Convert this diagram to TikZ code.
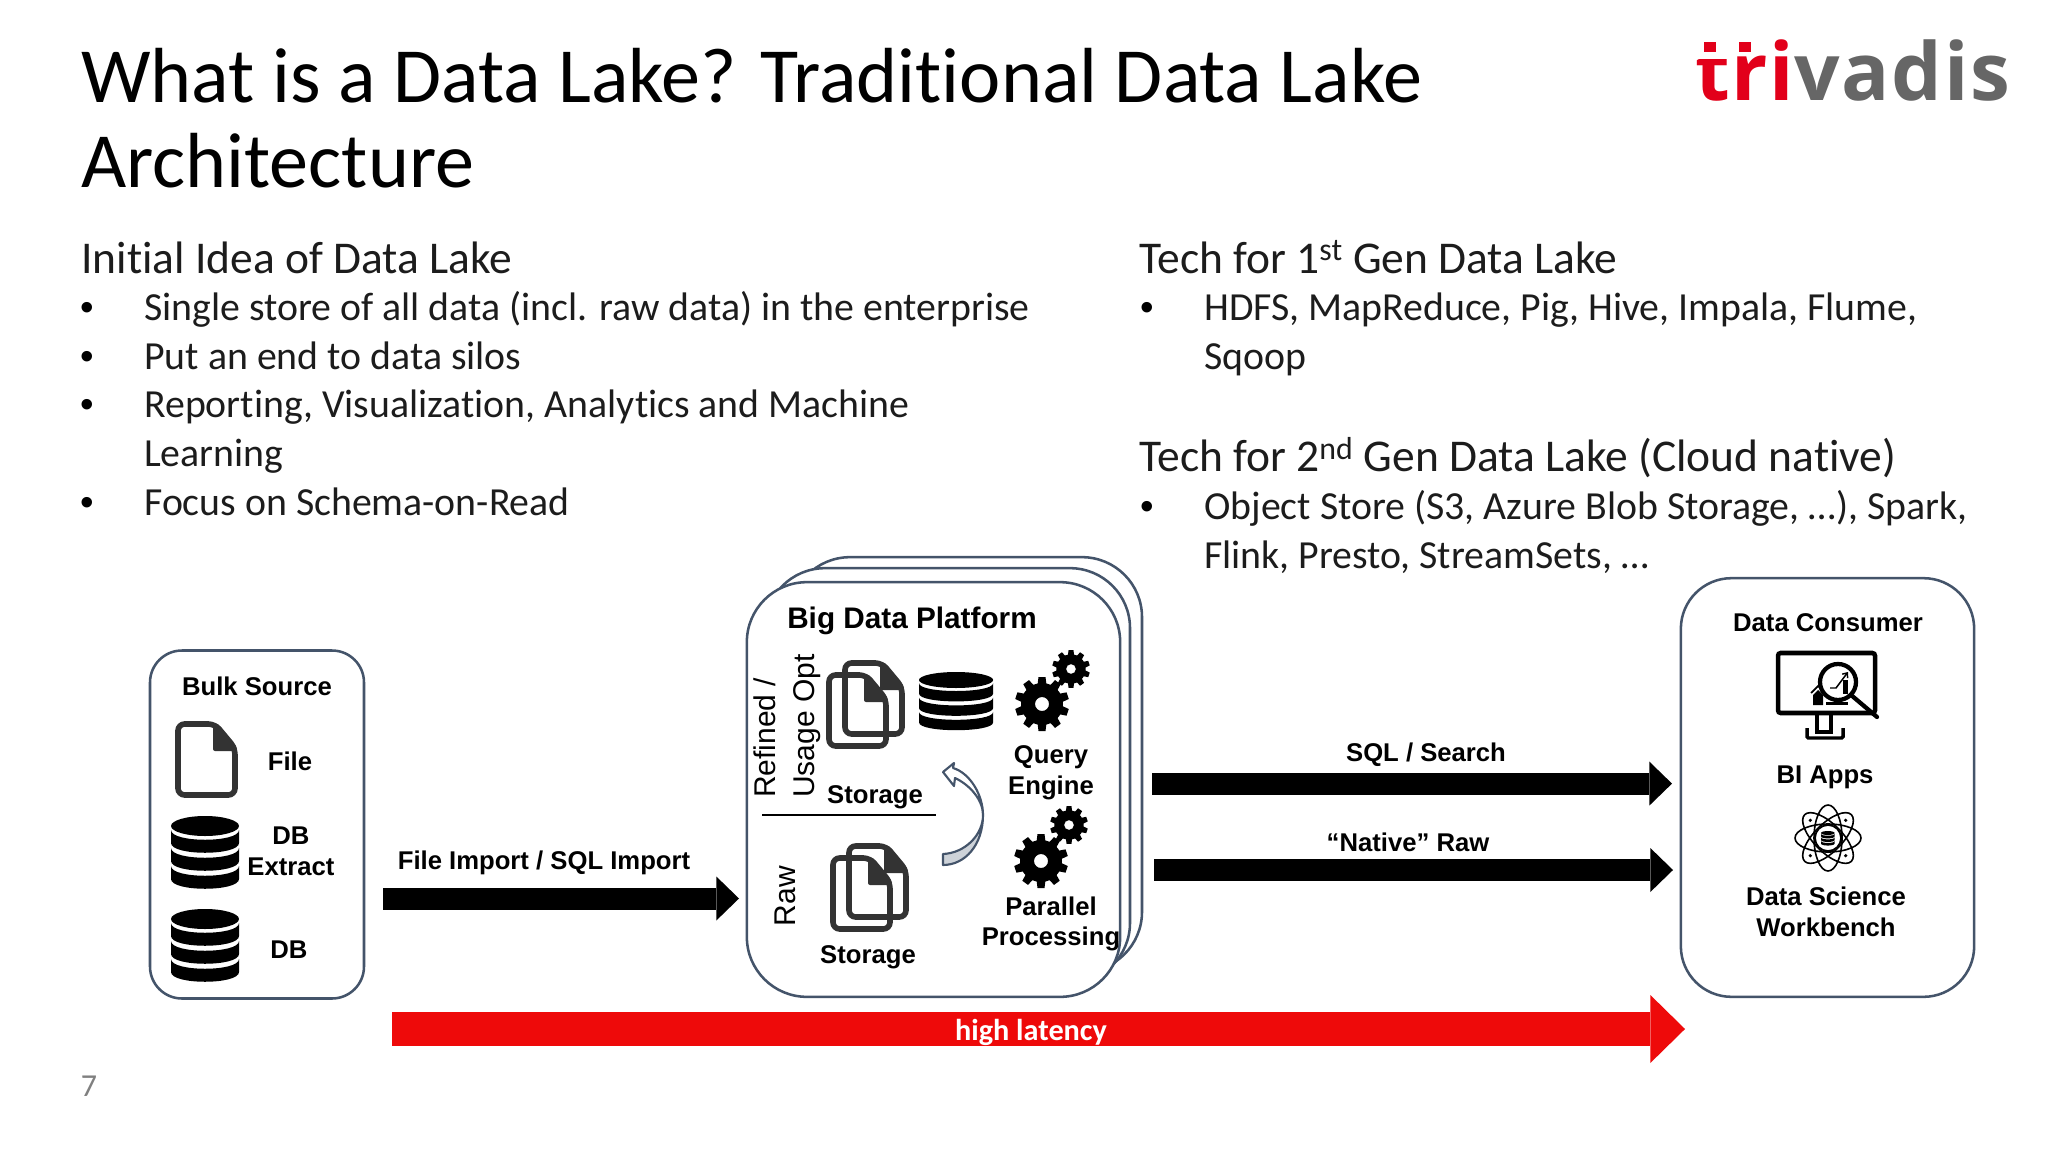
\documentclass[tikz,border=0pt]{standalone}
\usepackage{fontspec}
\setmainfont[Ligatures=NoCommon]{Carlito}
\newfontfamily\arialf{Liberation Sans}
\newfontfamily\logof[LetterSpace=2.2]{Open Sans}
\usetikzlibrary{arrows.meta,calc}
\definecolor{boxline}{HTML}{44546A}
\definecolor{iconline}{HTML}{333333}
\definecolor{bodytxt}{HTML}{1C1C1C}
\definecolor{redarrow}{HTML}{EE0A0A}
\definecolor{logored}{HTML}{E2001A}
\definecolor{logogray}{HTML}{666666}
\definecolor{foldgray}{HTML}{CDD2D8}
\tikzset{
  x=0.75pt,y=-0.75pt,
  titletxt/.style={anchor=base west,inner sep=0,text=black,font=\fontsize{58.6}{64}\selectfont},
  headtxt/.style={anchor=base west,inner sep=0,text=bodytxt,font=\fontsize{34.1}{38}\selectfont},
  bodyline/.style={anchor=base west,inner sep=0,text=bodytxt,font=\fontsize{29.85}{34}\selectfont},
  bulletmark/.style={anchor=base,inner sep=0,text=black,font=\arialf\fontsize{29}{32}\selectfont},
  dglabel/.style={inner sep=0,text=black,font=\arialf\bfseries\fontsize{19.25}{23}\selectfont,align=center},
  rotlabel/.style={inner sep=0,text=black,rotate=90,font=\arialf\fontsize{22.5}{29}\selectfont,align=left},
  panel/.style={draw=boxline,fill=white,line width=1.9pt,inner sep=0,outer sep=0},
  blockarrow/.style={draw=black,line width=16.5pt,-{Triangle[length=17pt,width=33pt,line width=0pt]},shorten >=0pt},
  pics/docicon/.style={code={
    \draw[iconline,line width=4.2pt,rounded corners=5pt,line join=round] (3,3) -- (40,3) -- (60,27) -- (60,74) -- (3,74) -- cycle;
    \fill[iconline,rounded corners=1.5pt] (38,2) -- (42,2) -- (62,26) -- (62,30) -- (38,30) -- cycle;
  }},
  pics/dbicon/.style={code={
    \fill[black] (34,10) ellipse [x radius=34,y radius=10];
    \foreach \yy in {14,32,50}{
      \fill[black] (0,\yy) .. controls (0,\yy+13) and (68,\yy+13) .. (68,\yy) -- (68,\yy+13)
        .. controls (68,\yy+26) and (0,\yy+26) .. (0,\yy+13) -- cycle;
    }
  }},
  pics/gearicon/.style={code={
    \fill[black,even odd rule] (0,0) circle [radius=21] (0,0) circle [radius=7];
    \foreach \a in {0,36,...,324}{
      \fill[black,rotate=\a] (-4.5,-19) -- (-3.5,-27) -- (3.5,-27) -- (4.5,-19) -- cycle;
    }
  }},
}
\begin{document}
\begin{tikzpicture}
\useasboundingbox[fill=white] (0,0) rectangle (2048,1152);

% Title
\node[titletxt] (t1) at (81,103) {What is a Data Lake? Traditional Data Lake};
\node[titletxt] (t2) at (81,188) {Architecture};

% Logo
\node[inner sep=0,anchor=base west,font=\logof\bfseries\fontsize{60}{64}\selectfont] (logo) at (1695,101) {\textcolor{logored}{tri}\textcolor{logogray}{vadis}};
\fill[white] (1695,30) rectangle (1732,59);
\fill[logored] (1704,42) rectangle (1716,52);
\fill[logored] (1739,42) rectangle (1751,52);

% Left column
\node[headtxt] (h1) at (81,273) {Initial Idea of Data Lake};
\node[bulletmark] (b1) at (87.5,320) {•};
\node[bodyline] (l1) at (144,320) {Single store of all data (incl. raw data) in the enterprise};
\node[bulletmark] (b2) at (87.5,369) {•};
\node[bodyline] (l2) at (144,369) {Put an end to data silos};
\node[bulletmark] (b3) at (87.5,417.5) {•};
\node[bodyline] (l3) at (144,417.5) {Reporting, Visualization, Analytics and Machine};
\node[bodyline] (l3b) at (144,466) {Learning};
\node[bulletmark] (b4) at (87.5,515) {•};
\node[bodyline] (l4) at (144,515) {Focus on Schema-on-Read};

% Right column
\node[headtxt] (h2) at (1139,273) {Tech for 1\textsuperscript{st} Gen Data Lake};
\node[bulletmark] (b5) at (1147,320) {•};
\node[bodyline] (r1) at (1204,320) {HDFS, MapReduce, Pig, Hive, Impala, Flume,};
\node[bodyline] (r1b) at (1204,369) {Sqoop};
\node[headtxt] (h3) at (1139,471.5) {Tech for 2\textsuperscript{nd} Gen Data Lake (Cloud native)};
\node[bulletmark] (b6) at (1147,519) {•};
\node[bodyline] (r2) at (1204,519) {Object Store (S3, Azure Blob Storage, …), Spark,};
\node[bodyline] (r2b) at (1204,568) {Flink, Presto, StreamSets, …};

% Page number
\node[inner sep=0,text=gray,font=\fontsize{24}{28}\selectfont] (pg) at (89,1086) {7};

% Bulk Source
\node[panel,rounded corners=24pt,minimum width=160.5pt,minimum height=261pt] (bulk) at (257,824.5) {};
\node[dglabel] (bulkt) at (257,686) {Bulk Source};
\pic at (175,721) {docicon};
\node[dglabel] (filet) at (290,761) {File};
\pic at (171,816) {dbicon};
\node[dglabel] (dbx) at (291,851.5) {DB\\Extract};
\pic at (171,909) {dbicon};
\node[dglabel] (dbt) at (289,950) {DB};

% Platform
\node[panel,rounded corners=45pt,minimum width=264pt,minimum height=311pt] (pback) at (966,764.5) {};
\node[panel,rounded corners=45pt,minimum width=273.75pt,minimum height=311pt] (pmid) at (947.5,775.5) {};
\node[panel,rounded corners=45pt,minimum width=280pt,minimum height=311pt] (pfront) at (933.5,789.5) {};
\node[dglabel,font=\arialf\bfseries\fontsize{22.3}{26}\selectfont] (bdp) at (912,621) {Big Data Platform};
\node[rotlabel,anchor=west] (ref) at (787,798) {Refined /\\Usage Opt};
\node[rotlabel] (raw) at (785,896) {Raw};
\pic at (842,660) {docicon};
\pic at (826,672) {docicon};
\pic at (846,843) {docicon};
\pic at (830,855) {docicon};
\pic[yscale=0.8,xscale=1.09] at (919,672) {dbicon};
\pic[scale=1] at (1042,704) {gearicon};
\pic[scale=0.7] at (1071,669) {gearicon};
\pic[scale=1] at (1041,861) {gearicon};
\pic[scale=0.7] at (1069,825) {gearicon};
\node[dglabel] (stor1) at (875,797) {Storage};
\node[dglabel] (stor2) at (868,957) {Storage};
\node[dglabel] (qe) at (1051,773) {Query\\Engine};
\node[dglabel] (pp) at (1051,924) {Parallel\\Processing};
\coordinate (divl) at (762,815);
\coordinate (divr) at (936,815);
\draw[black,line width=1pt] (divl) -- (divr);
% curved arrow
\draw[boxline,line width=1.6pt,fill=white,line join=round]
  (943,772) -- (954,763) -- (953,768) .. controls (970,773) and (983,795) .. (983,815)
  .. controls (983,800) and (970,785) .. (955,778) -- (954,786) -- cycle;
\draw[boxline,line width=1.6pt,fill=foldgray,line join=round]
  (983,815) .. controls (983,845) and (965,865) .. (943,865) -- (943,854)
  .. controls (965,853) and (983,835) .. (983,815) -- cycle;

% Data Consumer
\node[panel,rounded corners=38pt,minimum width=220pt,minimum height=314pt] (cons) at (1827.5,787.5) {};
\node[dglabel] (const) at (1828,623) {Data Consumer};
\draw[black,line width=3.4pt,rounded corners=2pt] (1778,653) rectangle (1875,713);
\coordinate (sa) at (1817,714); \coordinate (sb) at (1817,732); \coordinate (sc) at (1831,732); \coordinate (sd) at (1831,714);
\draw[black,line width=2.6pt] (sa) -- (sb) -- (sc) -- (sd);
\draw[black,line width=2.6pt,rounded corners=1pt] (1807,728) -- (1807,738) -- (1843,738) -- (1843,728);
% chart in monitor
\fill[black] (1813,695) -- (1818,690) -- (1823,695) -- (1823,705) -- (1813,705) -- cycle;
\draw[black,line width=1.3pt] (1811,693) -- (1818,686) -- (1824,691);
\fill[white] (1838,682) circle [radius=19];
\draw[black,line width=3.2pt] (1838,682) circle [radius=18];
\draw[black,line width=3.2pt,line cap=round] (1851,695) -- (1877,717);
\fill[black] (1843,680) rectangle (1848,694);
\draw[black,line width=1.1pt,-{Straight Barb[length=3pt,width=5pt]}] (1830,688) -- (1836,688) -- (1848,672);
\fill[black] (1826,702) rectangle (1848,705);
\node[dglabel] (biapps) at (1825,777) {BI Apps};
% atom
\foreach \r in {0,45,90,135}{
  \draw[black,line width=1.2pt,rotate around={\r:(1828,838)}] (1828,838) ellipse [x radius=33,y radius=14];
}
\draw[black,line width=1.3pt,fill=white] (1828,838) circle [radius=13];
\pic[scale=0.2] at (1821,831) {dbicon};
\foreach \a in {45,135,225,315}{
  \fill[black] ($(1828,838)+(\a:25)$) circle [radius=1.8];
}
\node[dglabel] (ds) at (1826,912) {Data Science\\Workbench};

% Arrows
\coordinate (a1s) at (383,898.5); \coordinate (a1e) at (739,898.5);
\draw[blockarrow] (a1s) -- (a1e);
\node[dglabel] (a1l) at (544,863) {File Import / SQL Import};
\coordinate (a2s) at (1152,783.6); \coordinate (a2e) at (1672,783.6);
\draw[blockarrow] (a2s) -- (a2e);
\node[dglabel] (a2l) at (1426,755) {SQL / Search};
\coordinate (a3s) at (1154,870); \coordinate (a3e) at (1673,870);
\draw[blockarrow] (a3s) -- (a3e);
\node[dglabel] (a3l) at (1408,842.4) {“Native” Raw};
\coordinate (a4s) at (392,1029); \coordinate (a4e) at (1685,1029);
\draw[draw=redarrow,line width=25.5pt,-{Triangle[length=26pt,width=51pt,line width=0pt,fill=redarrow]}] (a4s) -- (a4e);
\node[inner sep=0,text=white,font=\bfseries\fontsize{22.7}{26}\selectfont] (a4l) at (1031,1032) {high latency};
\end{tikzpicture}
\end{document}
